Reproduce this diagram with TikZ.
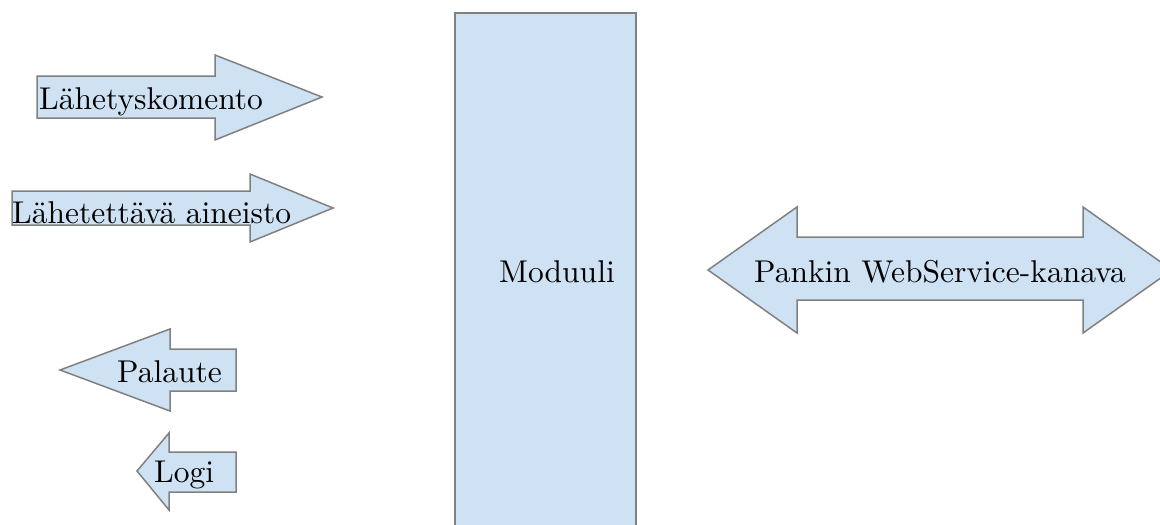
\documentclass[tikz,border=0pt]{standalone}
\usepackage{fontspec}
\setmainfont{lmroman10-regular.otf}
\begin{document}
\begin{tikzpicture}[x=1pt,y=-1pt,
  shapebox/.style={fill=boxblue,draw=boxgray,line width=1.5pt,line join=miter},
  lbl/.style={anchor=base west,inner sep=0pt,font=\fontsize{31.5}{36}\selectfont,text=black}]
\definecolor{boxblue}{HTML}{CFE2F3}
\definecolor{boxgray}{HTML}{808080}
\useasboundingbox (0,0) rectangle (1160,525);
\clip (0,0) rectangle (1160,525);
% module
\draw[shapebox,line width=2pt] (455,13) rectangle (636,540);
% arrow 1
\draw[shapebox] (37,76) -- (215,76) -- (215,55) -- (322,97) -- (215,140) -- (215,118) -- (37,118) -- cycle;
% arrow 2
\draw[shapebox] (12,191) -- (250,191) -- (250,174) -- (333,208) -- (250,242) -- (250,225) -- (12,225) -- cycle;
% arrow 3 (left)
\draw[shapebox] (236,349) -- (170,349) -- (170,329) -- (60,370) -- (170,411) -- (170,391) -- (236,391) -- cycle;
% arrow 4 (left)
\draw[shapebox] (236,452) -- (169,452) -- (169,433) -- (137,471) -- (169,510) -- (169,492) -- (236,492) -- cycle;
% double arrow
\draw[shapebox] (708,270) -- (797,207) -- (797,237) -- (1083,237) -- (1083,207) -- (1172,270) -- (1083,333) -- (1083,300) -- (797,300) -- (797,333) -- cycle;
% labels
\node[lbl] (t1) at (39,109) {Lähetyskomento};
\node[lbl] (t2) at (12,223) {Lähetettävä aineisto};
\node[lbl] (t3) at (117,382) {Palaute};
\node[lbl] (t4) at (154,482) {Logi};
\node[lbl] (t5) at (499,282) {Moduuli};
\node[lbl] (t6) at (754,282) {Pankin WebService-kanava};
\end{tikzpicture}
\end{document}
